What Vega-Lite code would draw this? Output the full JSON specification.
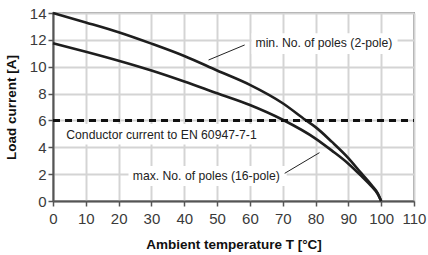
{
  "$schema": "https://vega.github.io/schema/vega-lite/v6.json",
  "width": 361,
  "height": 188,
  "autosize": "none",
  "padding": {"left": 53, "top": 13, "right": 14, "bottom": 54},
  "config": {
    "font": "Liberation Sans",
    "view": {"stroke": "#9a9a9a", "strokeWidth": 2},
    "axis": {
      "gridColor": "#d4d4d4",
      "gridWidth": 2,
      "domainColor": "#555555",
      "domainWidth": 2,
      "tickColor": "#555555",
      "tickWidth": 1.5,
      "tickSize": 5,
      "labelFontSize": 15,
      "labelColor": "#3a3a3a",
      "labelFont": "Liberation Sans",
      "titleFont": "Liberation Sans",
      "titleFontSize": 13.5,
      "titleFontWeight": "bold",
      "titleColor": "#111111"
    }
  },
  "encoding": {
    "x": {"field": "x", "type": "quantitative", "scale": {"domain": [0, 110], "nice": false},
          "axis": {"values": [0,10,20,30,40,50,60,70,80,90,100,110], "labelOverlap": false, "labelFlush": false, "labelBound": false, "title": "Ambient temperature T [°C]", "titlePadding": 11, "labelPadding": 5}},
    "y": {"field": "y", "type": "quantitative", "scale": {"domain": [0, 14], "nice": false},
          "axis": {"values": [0,2,4,6,8,10,12,14], "labelOverlap": false, "labelFlush": false, "labelBound": false, "title": "Load current [A]", "titlePadding": 11, "labelPadding": 2}}
  },
  "layer": [
    {
      "data": {"values": [
        {"x": 2.8, "x2": 65.6, "y": 4.2, "y2": 5.73},
        {"x": 23.0, "x2": 71.2, "y": 1.12, "y2": 2.61},
        {"x": 60.5, "x2": 105.0, "y": 10.95, "y2": 12.5}
      ]},
      "mark": {"type": "rect", "fill": "white"},
      "encoding": {
        "x2": {"field": "x2"},
        "y2": {"field": "y2"}
      }
    },
    {
      "data": {"values": [
        {"s": "min", "x": 0, "y": 14}, {"s": "min", "x": 10, "y": 13.3}, {"s": "min", "x": 20, "y": 12.57},
        {"s": "min", "x": 30, "y": 11.72}, {"s": "min", "x": 40, "y": 10.8}, {"s": "min", "x": 50, "y": 9.72},
        {"s": "min", "x": 60, "y": 8.65}, {"s": "min", "x": 70, "y": 7.28}, {"s": "min", "x": 77, "y": 6.02},
        {"s": "min", "x": 80, "y": 5.5}, {"s": "min", "x": 85, "y": 4.4}, {"s": "min", "x": 90, "y": 3.2},
        {"s": "min", "x": 94, "y": 2.05}, {"s": "min", "x": 97, "y": 1.2}, {"s": "min", "x": 99, "y": 0.55},
        {"s": "min", "x": 100, "y": 0},
        {"s": "max", "x": 0, "y": 11.75}, {"s": "max", "x": 10, "y": 11.12}, {"s": "max", "x": 20, "y": 10.45},
        {"s": "max", "x": 30, "y": 9.72}, {"s": "max", "x": 40, "y": 8.9}, {"s": "max", "x": 50, "y": 8.02},
        {"s": "max", "x": 60, "y": 7.15}, {"s": "max", "x": 70, "y": 6.05}, {"s": "max", "x": 80, "y": 4.65},
        {"s": "max", "x": 85, "y": 3.75}, {"s": "max", "x": 90, "y": 2.78}, {"s": "max", "x": 94, "y": 1.85},
        {"s": "max", "x": 97, "y": 1.1}, {"s": "max", "x": 99, "y": 0.5}, {"s": "max", "x": 100, "y": 0}
      ]},
      "mark": {"type": "line", "color": "#1e1e1e", "strokeWidth": 2.6, "interpolate": "monotone"},
      "encoding": {
        "detail": {"field": "s"}
      }
    },
    {
      "data": {"values": [{"x": 0, "x2": 110, "y": 6, "y2": 6}]},
      "mark": {"type": "rule", "color": "#111111", "strokeWidth": 3, "strokeDash": [7, 5]},
      "encoding": {"x2": {"field": "x2"}, "y2": {"field": "y2"}}
    },
    {
      "data": {"values": [
        {"x": 47.4, "y": 10.5, "x2": 58.4, "y2": 11.62},
        {"x": 70.6, "y": 2.06, "x2": 81.2, "y2": 3.6}
      ]},
      "mark": {"type": "rule", "color": "#222222", "strokeWidth": 1},
      "encoding": {"x2": {"field": "x2"}, "y2": {"field": "y2"}}
    },
    {
      "data": {"values": [
        {"x": 4.05, "y": 4.91, "label": "Conductor current to EN 60947-7-1"},
        {"x": 24.3, "y": 1.86, "label": "max. No. of poles (16-pole)"},
        {"x": 61.7, "y": 11.74, "label": "min. No. of poles (2-pole)"}
      ]},
      "mark": {"type": "text", "align": "left", "baseline": "middle", "fontSize": 12.2, "color": "#222222", "font": "Liberation Sans"},
      "encoding": {
        "text": {"field": "label"}
      }
    }
  ]
}
